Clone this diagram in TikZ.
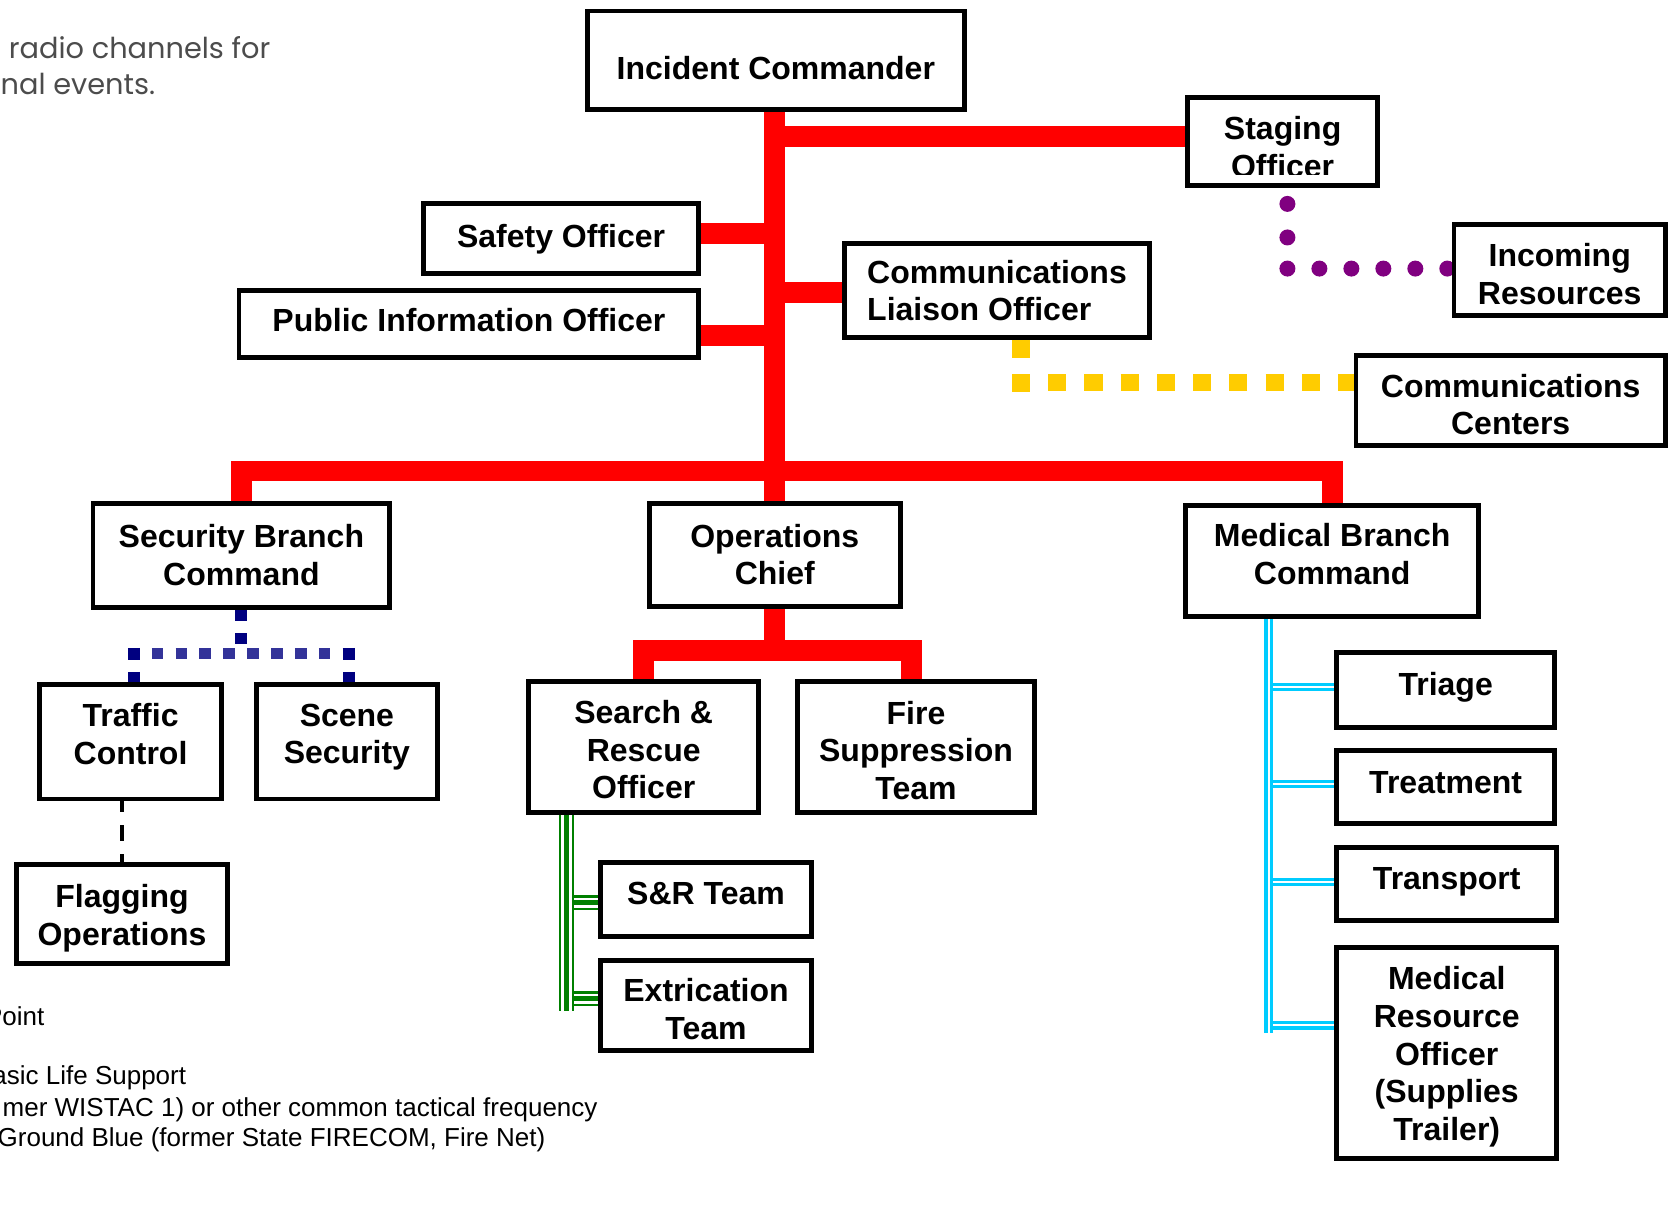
\documentclass[tikz,border=0pt]{standalone}
\usepackage{fontspec}
\setmainfont{Liberation Sans}
\newfontfamily\notefont{Poppins}
\usetikzlibrary{calc,backgrounds}

\definecolor{linkred}{RGB}{255,0,0}
\definecolor{linkyellow}{RGB}{255,204,0}
\definecolor{linkpurple}{RGB}{128,0,128}
\definecolor{linknavy}{RGB}{0,0,128}
\definecolor{linkblue}{RGB}{51,51,153}
\definecolor{linkgreen}{RGB}{0,128,0}
\definecolor{linkcyan}{RGB}{0,204,255}

\begin{document}
\begin{tikzpicture}[x=0.53286pt, y=-0.53286pt,
    boxtext/.style={inner sep=0pt, align=center, font=\bfseries\fontsize{16}{18.8}\selectfont},
    box/.style={boxtext, draw, line width=2.45pt, fill=white},
    note/.style={inner sep=0pt, font=\fontsize{13}{15}\selectfont},
    topnote/.style={inner sep=0pt, text=black!70, font=\notefont\fontsize{14.4}{16}\selectfont},
    redline/.style={draw=linkred, line width=10.4pt},
    navydots/.style={draw=linknavy, line width=5.8pt, dash pattern=on 5.86pt off 6.07pt},
    bluedots/.style={navydots, draw=linkblue},
    blackdash/.style={draw=black, line width=2.4pt, dash pattern=on 8pt off 6.4pt, dash phase=2.5pt},
    yellowdots/.style={draw=linkyellow, line width=8.8pt, dash pattern=on 9.06pt off 9.06pt},
    purpledots/.style={draw=linkpurple, line width=8pt, line cap=round, dash pattern=on 0pt off 15.99pt},
    gwire/.style={draw=linkgreen, line width=1.23pt, double=white, double distance=5.06pt},
    gcore/.style={draw=linkgreen, line width=2.4pt},
    cwire/.style={draw=linkcyan, line width=1.65pt, double=white, double distance=1.0pt}]
  \useasboundingbox (0,0) rectangle (1567,1136.3);

  % Command staff
  \node[box, minimum width=188.31pt, minimum height=49.24pt] (ic) at (728,56.5) {};
  \node[boxtext, yshift=-3.7pt] (ictext) at (ic) {Incident Commander};
  \node[box, minimum width=95.06pt, minimum height=43.91pt] (stag) at (1203.5,132.5) {};
  \begin{scope}
    \clip (1112,89) rectangle (1295,164);
    \node[boxtext] (stagtext) at (1203.5,138) {Staging\\Officer};
  \end{scope}
  \node[box, minimum width=137.69pt, minimum height=34.85pt] (safety) at (526.5,224) {Safety Officer};
  \node[box, minimum width=229.88pt, minimum height=33.78pt] (pio) at (440,304) {};
  \node[boxtext, yshift=2.1pt] (piotext) at (pio) {Public Information Officer};
  \node[box, align=left, minimum width=152.61pt, minimum height=47.10pt] (cl) at (935.5,272.5) {Communications\\Liaison Officer};
  \node[box, minimum width=105.72pt, minimum height=45.51pt] (inc) at (1463.5,253) {};
  \node[boxtext, yshift=-2.1pt] (inctext) at (inc) {Incoming\\Resources};
  \node[box, minimum width=154.74pt, minimum height=44.97pt] (cc) at (1417.5,375.5) {};
  \node[boxtext, yshift=-2.1pt] (cctext) at (cc) {Communications\\Centers};

  % Branches
  \node[box, minimum width=148.35pt, minimum height=51.90pt] (sec) at (226.5,521) {Security Branch\\Command};
  \node[box, minimum width=125.44pt, minimum height=51.37pt] (ops) at (727,520.5) {Operations\\Chief};
  \node[box, minimum width=146.75pt, minimum height=55.63pt] (med) at (1250,526.5) {};
  \node[boxtext, yshift=3.5pt] (medtext) at (med) {Medical Branch\\Command};

  % Security
  \node[box, minimum width=90.80pt, minimum height=57.23pt] (tc) at (122.5,696) {};
  \node[boxtext, yshift=4pt] (tctext) at (tc) {Traffic\\Control};
  \node[box, minimum width=90.80pt, minimum height=57.23pt] (ss) at (325.5,696) {};
  \node[boxtext, yshift=2.4pt] (sstext) at (ss) {Scene\\Security};
  \node[box, minimum width=105.72pt, minimum height=49.24pt] (flag) at (114.5,857.5) {};
  \node[boxtext, yshift=-2.1pt] (flagtext) at (flag) {Flagging\\Operations};

  % Operations
  \node[box, minimum width=114.78pt, minimum height=65.75pt] (sar) at (604,701) {};
  \node[boxtext, yshift=-1.3pt] (sartext) at (sar) {Search \&\\Rescue\\Officer};
  \node[box, minimum width=118.51pt, minimum height=65.75pt] (fire) at (859.5,701) {};
  \node[boxtext, yshift=-1.6pt] (firetext) at (fire) {Fire\\Suppression\\Team};
  \node[box, minimum width=105.72pt, minimum height=36.98pt] (srt) at (662.5,844) {};
  \node[boxtext, yshift=3.2pt] (srttext) at (srt) {S\&R Team};
  \node[box, minimum width=105.72pt, minimum height=44.97pt] (ext) at (662.5,943.5) {};
  \node[boxtext, yshift=-1.9pt] (exttext) at (ext) {Extrication\\Team};

  % Medical
  \node[box, minimum width=108.92pt, minimum height=37.51pt] (tri) at (1356.5,647.5) {};
  \node[boxtext, yshift=1.6pt] (tritext) at (tri) {Triage};
  \node[box, minimum width=108.92pt, minimum height=36.45pt] (treat) at (1356.5,738.5) {};
  \node[boxtext, yshift=2.1pt] (treattext) at (treat) {Treatment};
  \node[box, minimum width=109.98pt, minimum height=36.45pt] (trans) at (1357.5,829.5) {};
  \node[boxtext, yshift=1.1pt] (transtext) at (trans) {Transport};
  \node[box, minimum width=109.98pt, minimum height=105.19pt] (mro) at (1357.5,988) {};
  \node[boxtext, yshift=-1.9pt] (mrotext) at (mro) {Medical\\Resource\\Officer\\(Supplies\\Trailer)};

  \begin{scope}[on background layer]
    % Red command lines
    \coordinate (bus) at (727,442);
    \coordinate (opsbus) at (727,610.5);
    \draw[redline] (ops.north |- ic.south) -- (ops.north);
    \draw[redline] ($(stag.west)+(0,-4.5)$) -- ($(stag.west -| bus)+(0,-4.5)$);
    \draw[redline] ($(safety.east)+(0,-5)$) -- ($(safety.east -| bus)+(0,-5)$);
    \draw[redline] ($(pio.east)+(0,10.5)$) -- ($(pio.east -| bus)+(0,10.5)$);
    \draw[redline] ($(cl.west)+(0,2)$) -- ($(cl.west -| bus)+(0,2)$);
    \draw[redline] (sec.north) |- (bus) -| (med.north);
    \draw[redline] (ops.south) -- (opsbus);
    \draw[redline] (sar.north) |- (opsbus) -| ($(fire.north)+(-4.5,0)$);

    % Staging and communications links
    \coordinate (stagbus) at (1208,252);
    \draw[purpledots, dash pattern=on 0pt off 16.78pt] ($(stagbus |- stag.south)+(0,15.3)$) -- (stagbus);
    \draw[purpledots] (stagbus) -- (inc.west |- stagbus);
    \coordinate (clbus) at (958,359);
    \draw[yellowdots] (clbus |- cl.south) -- ($(clbus)+(0,8.7)$);
    \draw[yellowdots] ($(clbus)+(-8.5,0)$) -- (cc.west |- clbus);

    % Security links
    \coordinate (secbus) at (226,613);
    \coordinate (secleft) at (125.5,613);
    \coordinate (secright) at (327.5,613);
    \draw[navydots] (secbus |- sec.south) -- ($(secbus)+(0,-9)$);
    \draw[bluedots] ($(secleft)+(-5.5,0)$) -- ($(secright)+(5.5,0)$);
    \draw[navydots] ($(secleft)+(0,-5)$) -- (secleft |- tc.north);
    \draw[navydots] ($(secright)+(0,-5)$) -- (secright |- ss.north);
    \draw[blackdash] (flag.north |- tc.south) -- (flag.north);

    % Search and rescue links
    \coordinate (sarbus) at (531.5,949);
    \draw[gwire] (sarbus |- sar.south) -- (sarbus);
    \draw[gcore] (sarbus |- sar.south) -- (sarbus);
    \draw[gwire] ($(sarbus |- srt.west)+(7,3)$) -- ($(srt.west)+(0,3)$);
    \draw[gcore] ($(sarbus |- srt.west)+(7,3)$) -- ($(srt.west)+(0,3)$);
    \draw[gwire] ($(sarbus |- ext.west)+(7,-6.5)$) -- ($(ext.west)+(0,-6.5)$);
    \draw[gcore] ($(sarbus |- ext.west)+(7,-6.5)$) -- ($(ext.west)+(0,-6.5)$);

    % Medical links
    \coordinate (medbus) at (1190.5,969);
    \draw[cwire] (medbus |- med.south) -- (medbus);
    \draw[cwire] ($(medbus |- tri.west)+(4,-3)$) -- ($(tri.west)+(0,-3)$);
    \draw[cwire] ($(medbus |- treat.west)+(4,-3)$) -- ($(treat.west)+(0,-3)$);
    \draw[cwire] ($(medbus |- trans.west)+(4,-2)$) -- ($(trans.west)+(0,-2)$);
    \draw[cwire] ($(medbus |- mro.west)+(4,-26)$) -- ($(mro.west)+(0,-26)$);
  \end{scope}

  % Notes
  \node[topnote, anchor=base west] (radio) at (8,54.6) {radio channels for};
  \node[topnote, anchor=base east] (events) at (146,89) {nal events.};
  \node[note, anchor=base east] (point) at (42,962) {Point};
  \node[note, anchor=base east] (bls) at (175,1018) {asic Life Support};
  \node[note, anchor=base east] (wistac) at (561,1048) {mer WISTAC 1) or other common tactical frequency};
  \node[note, anchor=base east] (ground) at (512,1076) {Ground Blue (former State FIRECOM, Fire Net)};
\end{tikzpicture}
\end{document}
